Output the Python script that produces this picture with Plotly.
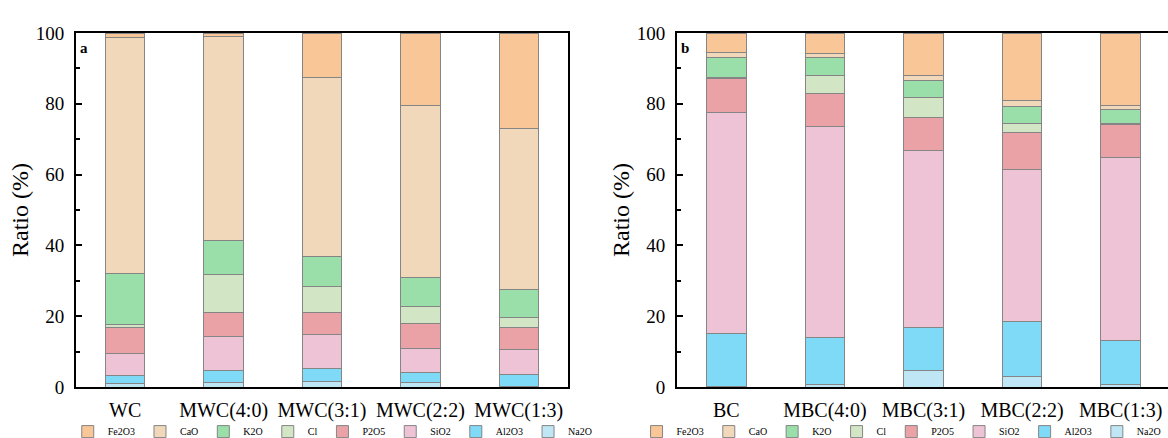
import plotly.graph_objects as go

# ---- data ----
cats_a = ["WC", "MWC(4:0)", "MWC(3:1)", "MWC(2:2)", "MWC(1:3)"]
cats_b = ["BC", "MBC(4:0)", "MBC(3:1)", "MBC(2:2)", "MBC(1:3)"]
components = ["Na2O", "Al2O3", "SiO2", "P2O5", "Cl", "K2O", "CaO", "Fe2O3"]  # bottom -> top

# percentages (each component's share), panel a
a_Na2O  = [0.9, 1.2, 1.5, 1.3, 0.2]
a_Al2O3 = [2.4, 3.5, 3.7, 2.9, 3.3]
a_SiO2  = [6.1, 9.5, 9.6, 6.8, 7.2]
a_P2O5  = [7.3, 6.8, 6.2, 6.8, 6.2]
a_Cl    = [0.9, 10.8, 7.5, 4.9, 2.7]
a_K2O   = [14.5, 9.5, 8.4, 8.2, 8.0]
a_CaO   = [66.5, 57.6, 50.4, 48.5, 45.5]
a_Fe2O3 = [1.4, 1.1, 12.7, 20.6, 26.9]

# panel b
b_Na2O  = [0.1, 0.7, 4.7, 3.1, 0.7]
b_Al2O3 = [15.0, 13.3, 12.1, 15.5, 12.4]
b_SiO2  = [62.4, 59.6, 49.9, 42.9, 51.6]
b_P2O5  = [9.6, 9.4, 9.3, 10.3, 9.5]
b_Cl    = [0.2, 5.1, 5.7, 2.5, 0.1]
b_K2O   = [5.9, 4.9, 4.8, 4.9, 4.2]
b_CaO   = [1.4, 1.3, 1.4, 1.6, 0.9]
b_Fe2O3 = [5.4, 5.7, 12.1, 19.2, 20.6]

colors = {
    "Fe2O3": "#F8C697",
    "CaO":   "#F1D8BA",
    "K2O":   "#9ADFAA",
    "Cl":    "#D2E6C6",
    "P2O5":  "#EBA2A7",
    "SiO2":  "#EFC3D6",
    "Al2O3": "#7FDAF8",
    "Na2O":  "#BEE6F5",
}

vals_a = {"Na2O": a_Na2O, "Al2O3": a_Al2O3, "SiO2": a_SiO2, "P2O5": a_P2O5,
          "Cl": a_Cl, "K2O": a_K2O, "CaO": a_CaO, "Fe2O3": a_Fe2O3}
vals_b = {"Na2O": b_Na2O, "Al2O3": b_Al2O3, "SiO2": b_SiO2, "P2O5": b_P2O5,
          "Cl": b_Cl, "K2O": b_K2O, "CaO": b_CaO, "Fe2O3": b_Fe2O3}

SERIF = "Liberation Serif, Times New Roman, serif"
EDGE = "#858585"

fig = go.Figure()
for comp in components:
    fig.add_trace(go.Bar(
        x=cats_a, y=vals_a[comp], name=comp, width=0.4,
        marker=dict(color=colors[comp], line=dict(color=EDGE, width=1)),
        xaxis="x", yaxis="y", legend="legend",
    ))
for comp in components:
    fig.add_trace(go.Bar(
        x=cats_b, y=vals_b[comp], name=comp, width=0.4,
        marker=dict(color=colors[comp], line=dict(color=EDGE, width=1)),
        xaxis="x2", yaxis="y2", legend="legend2",
    ))

W, H = 1168, 438
xdom_a = [76 / W, 568 / W]
xdom_b = [677 / W, 1.0]

yax_common = dict(
    range=[0, 100], tickvals=[0, 20, 40, 60, 80, 100],
    ticks="inside", ticklen=6, tickwidth=2, tickcolor="black",
    minor=dict(tickvals=[10, 30, 50, 70, 90], ticks="inside", ticklen=4,
               tickwidth=2, tickcolor="black"),
    showline=True, linewidth=2, linecolor="black",
    showgrid=False, zeroline=False,
    tickfont=dict(family=SERIF, size=19, color="black"),
    ticklabelstandoff=6,
    title=dict(text="Ratio (%)", font=dict(family=SERIF, size=24, color="black"),
               standoff=0),
)
xax_common = dict(
    type="category", showline=True, linewidth=2, linecolor="black",
    ticks="", showgrid=False, zeroline=False,
    tickfont=dict(family=SERIF, size=20, color="black"),
    ticklabelstandoff=4,
)

legend_common = dict(
    orientation="h", yanchor="top", y=-0.085, xanchor="left",
    font=dict(family=SERIF, size=10, color="black"),
    traceorder="reversed", itemwidth=30, bgcolor="rgba(0,0,0,0)",
    tracegroupgap=0,
)

fig.update_layout(
    template="none",
    width=W, height=H,
    margin=dict(l=0, r=0, t=33, b=51, autoexpand=False),
    paper_bgcolor="white", plot_bgcolor="white",
    barmode="stack", bargap=0.6,
    xaxis=dict(domain=xdom_a, anchor="y", range=[-0.5, 4.5], mirror=True, **xax_common),
    yaxis=dict(domain=[0, 1], anchor="x", mirror=True, **yax_common),
    xaxis2=dict(domain=xdom_b, anchor="y2", range=[-0.5, 4.48], mirror=True, **xax_common),
    yaxis2=dict(domain=[0, 1], anchor="x2", **yax_common),
    legend=dict(x=0.058, **legend_common),
    legend2=dict(x=0.545, **legend_common),
    showlegend=True,
    annotations=[
        dict(text="<b>a</b>", xref="x domain", yref="y domain", x=0.004, y=0.985,
             xanchor="left", yanchor="top", showarrow=False,
             font=dict(family=SERIF, size=15, color="black")),
        dict(text="<b>b</b>", xref="x2 domain", yref="y2 domain", x=0.004, y=0.985,
             xanchor="left", yanchor="top", showarrow=False,
             font=dict(family=SERIF, size=15, color="black")),
    ],
)

fig.write_html(
    "out.html",
    config={"displayModeBar": False},
    post_script="document.body.style.margin='0';document.body.style.overflow='hidden';",
)
